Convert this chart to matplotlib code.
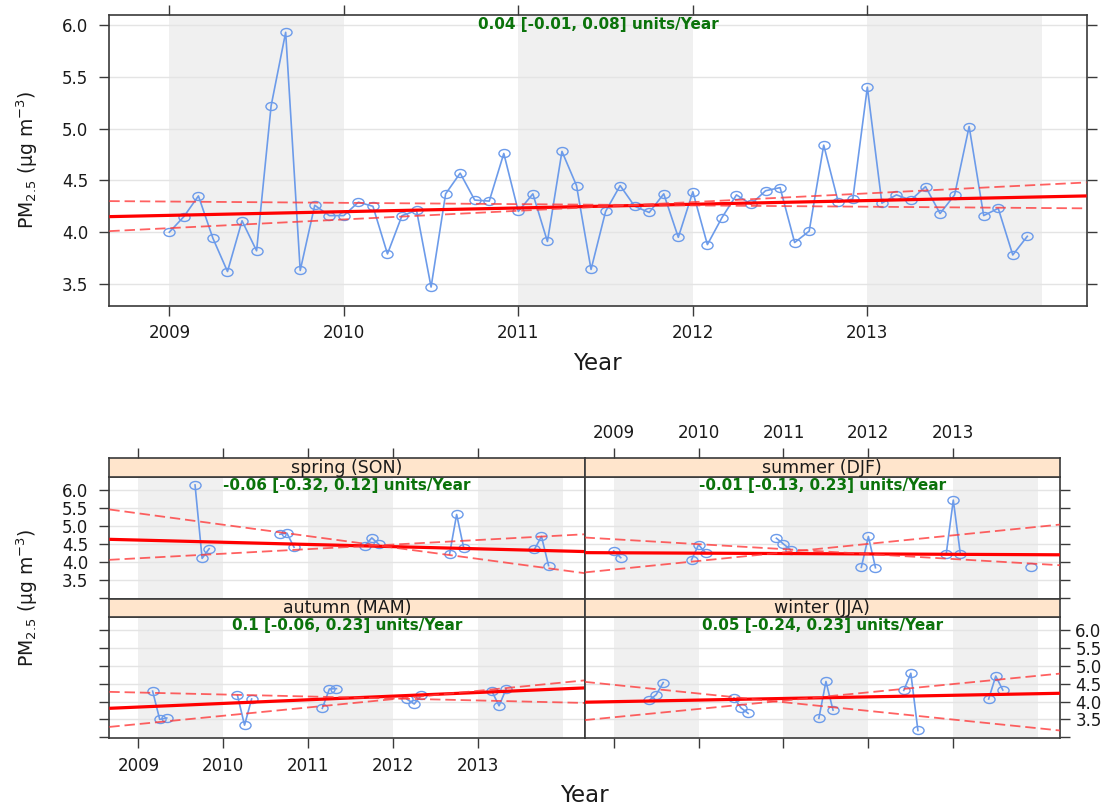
import matplotlib
matplotlib.use('Agg')
import matplotlib.pyplot as plt
import numpy as np
from matplotlib.path import Path

plt.rcParams['font.family'] = ['DejaVu Sans']
plt.rcParams['mathtext.fontset'] = 'dejavusans'
plt.rcParams['lines.scale_dashes'] = False

# ---------------- data ----------------
years = [2009, 2010, 2011, 2012, 2013]
monthly_pm25 = [
    4.00, 4.15, 4.35, 3.94, 3.62, 4.11, 3.82, 5.22, 5.93, 3.63, 4.26, 4.16,
    4.16, 4.29, 4.25, 3.79, 4.16, 4.21, 3.47, 4.37, 4.57, 4.31, 4.30, 4.76,
    4.20, 4.37, 3.91, 4.78, 4.45, 3.64, 4.20, 4.45, 4.25, 4.19, 4.37, 3.95,
    4.39, 3.88, 4.14, 4.36, 4.27, 4.40, 4.43, 3.90, 4.01, 4.84, 4.29, 4.32,
    5.40, 4.28, 4.36, 4.31, 4.44, 4.18, 4.36, 5.02, 4.16, 4.23, 3.78, 3.96,
]
# trend line values at the left / right ends of the time axis
top_trend = [4.15, 4.35]
top_ci_a = [4.30, 4.23]
top_ci_b = [4.01, 4.48]
top_label = "0.04 [-0.01, 0.08] units/Year"

season_names = ["spring (SON)", "summer (DJF)", "autumn (MAM)", "winter (JJA)"]
season_labels = ["-0.06 [-0.32, 0.12] units/Year",
                 "-0.01 [-0.13, 0.23] units/Year",
                 "0.1 [-0.06, 0.23] units/Year",
                 "0.05 [-0.24, 0.23] units/Year"]

spring_year = [2009]*3 + [2010]*3 + [2011]*3 + [2012]*3 + [2013]*3
spring_month = [9, 10, 11]*5
spring_vals = [6.14, 4.10, 4.37, 4.77, 4.80, 4.41, 4.45, 4.67, 4.49,
               4.22, 5.32, 4.39, 4.35, 4.71, 3.90]

summer_year = [2009, 2009, 2009, 2010, 2010, 2010, 2011, 2011, 2011,
               2012, 2012, 2012, 2013, 2013, 2013]
summer_month = [1, 2, 12]*5
summer_vals = [4.31, 4.12, 4.06, 4.48, 4.25, 4.66, 4.50, 4.34, 3.85,
               4.71, 3.84, 4.22, 5.72, 4.22, 3.86]

autumn_year = spring_year
autumn_month = [3, 4, 5]*5
autumn_vals = [4.29, 3.50, 3.54, 4.17, 3.34, 4.07, 3.81, 4.35, 4.36,
               4.06, 3.93, 4.17, 4.28, 3.88, 4.35]

winter_year = spring_year
winter_month = [6, 7, 8]*5
winter_vals = [4.03, 4.19, 4.53, 4.10, 3.82, 3.67, 3.53, 4.56, 3.76,
               4.31, 4.79, 3.19, 4.07, 4.71, 4.32]

season_trend = [[4.63, 4.29], [4.26, 4.20], [3.81, 4.38], [3.98, 4.23]]
season_ci_a = [[5.46, 3.69], [4.68, 3.91], [4.27, 3.96], [4.55, 3.19]]
season_ci_b = [[4.06, 4.77], [3.71, 5.04], [3.29, 4.59], [3.48, 4.78]]

shade_start_years = [2009, 2011, 2013]
ytick_vals = [3.5, 4.0, 4.5, 5.0, 5.5, 6.0]

# ---------------- styling / layout ----------------
W, H = 1116, 807
XLIM = (2008.656, 2014.257)
TOP_YLIM = (3.290, 6.097)
BOT_YLIM = (2.972, 6.353)
BLUE = '#6C9BEA'
GREEN = '#0B730B'
AX_COL = '#3a3a3a'
TXT_COL = '#1a1a1a'
FS = 12
TL = 7.5

fig = plt.figure(figsize=(W / 100, H / 100), dpi=100)


def rect(x0, y0, x1, y1):
    return [x0 / W, 1 - y1 / H, (x1 - x0) / W, (y1 - y0) / H]


circ = Path.unit_circle()
ell_marker = Path(circ.vertices * np.array([1.0, 0.72]), circ.codes)


def style_axes(ax):
    for s in ax.spines.values():
        s.set_color(AX_COL)
        s.set_linewidth(1.2)
    ax.tick_params(which='both', direction='out', length=TL, width=1.0,
                   color=AX_COL, labelcolor=TXT_COL, labelsize=FS)


def background(ax):
    for y0 in shade_start_years:
        ax.axvspan(y0, y0 + 1, color='#F0F0F0', lw=0, zorder=0)
    for yv in ytick_vals:
        ax.axhline(yv, color='#E4E4E4', lw=1.0, zorder=0.5)


def trends(ax, tr, ca, cb):
    ax.plot(XLIM, tr, color='red', lw=2.3, zorder=4, solid_capstyle='butt')
    for c in (ca, cb):
        ax.plot(XLIM, c, color='#FF3a3a', lw=1.3, alpha=0.8,
                dashes=(7.5, 3.5), zorder=4)


def green_text(ax, s, off_px):
    ax.annotate(s, xy=(0.5, 1.0), xycoords='axes fraction',
                xytext=(0, -off_px * 0.72), textcoords='offset points',
                ha='center', va='center', fontsize=11, fontweight='bold',
                color=GREEN, zorder=6)


# ---------------- top panel ----------------
ax0 = fig.add_axes(rect(109.3, 15, 1086.7, 305.7))
style_axes(ax0)
background(ax0)
t = np.array([y + (m - 1) / 12 for y in years for m in range(1, 13)])
ax0.plot(t, monthly_pm25, color=BLUE, lw=1.2, marker=ell_marker, ms=8.0,
         mfc='none', mec=BLUE, mew=1.0, zorder=3)
trends(ax0, top_trend, top_ci_a, top_ci_b)
green_text(ax0, top_label, 9)
ax0.set_xlim(XLIM)
ax0.set_ylim(TOP_YLIM)
ax0.set_xticks(years)
ax0.set_xticklabels([str(y) for y in years])
ax0.set_yticks(ytick_vals)
ax0.set_yticklabels(['%.1f' % v for v in ytick_vals])
ax0.tick_params(axis='x', top=True, bottom=True, labeltop=False, pad=5.5)
ax0.tick_params(axis='y', left=True, right=True, labelright=False, pad=7.5)
fig.text(597 / W, 1 - 363 / H, 'Year', ha='center', va='center',
         fontsize=16.5, color=TXT_COL)
fig.text(27 / W, 1 - 160 / H, 'PM$_{2.5}$ (μg m$^{-3}$)', ha='center',
         va='center', rotation=90, fontsize=13.5, color=TXT_COL)

# ---------------- seasonal panels ----------------
cols = [(109.3, 584.5), (584.5, 1060.0)]
rows = [((458.3, 477.3), (477.3, 599.0)), ((599.0, 617.3), (617.3, 738.3))]
season_data = [(spring_year, spring_month, spring_vals),
               (summer_year, summer_month, summer_vals),
               (autumn_year, autumn_month, autumn_vals),
               (winter_year, winter_month, winter_vals)]

ytl = [3.0] + ytick_vals
ytl_lab = [''] + ['%.1f' % v for v in ytick_vals]

for k in range(4):
    r, c = divmod(k, 2)
    (sy0, sy1), (py0, py1) = rows[r]
    x0, x1 = cols[c]
    ax = fig.add_axes(rect(x0, py0, x1, py1))
    style_axes(ax)
    background(ax)
    yrs, mons, vals = season_data[k]
    xs = np.array([y + (m - 1) / 12 for y, m in zip(yrs, mons)])
    grp = np.array([y + 1 if m == 12 else y for y, m in zip(yrs, mons)])
    vals = np.array(vals)
    for g in np.unique(grp):
        sel = grp == g
        ax.plot(xs[sel], vals[sel], color=BLUE, lw=1.2, marker=ell_marker,
                ms=8.0, mfc='none', mec=BLUE, mew=1.0, zorder=3)
    trends(ax, season_trend[k], season_ci_a[k], season_ci_b[k])
    green_text(ax, season_labels[k], 8)
    ax.set_xlim(XLIM)
    ax.set_ylim(BOT_YLIM)
    ax.set_xticks(years)
    ax.set_xticklabels([str(y) for y in years])
    ax.set_yticks(ytl)
    ax.set_yticklabels(ytl_lab)
    # tick placement lattice style
    if r == 0:
        ax.tick_params(axis='x', bottom=False, top=False,
                       labelbottom=False, labeltop=False)
    else:
        ax.tick_params(axis='x', bottom=True, top=False,
                       labelbottom=(c == 0), labeltop=False, pad=6.0)
    if c == 0:
        ax.tick_params(axis='y', left=True, right=False,
                       labelleft=(r == 0), labelright=False, pad=7.5)
    else:
        ax.tick_params(axis='y', left=False, right=True,
                       labelleft=False, labelright=(r == 1), pad=3.5)

    # strip
    sax = fig.add_axes(rect(x0, sy0, x1, sy1))
    sax.set_facecolor('#FFE5CC')
    style_axes(sax)
    sax.set_xlim(XLIM)
    sax.set_yticks([])
    sax.set_xticks(years)
    sax.set_xticklabels([str(y) for y in years])
    if r == 0:
        sax.tick_params(axis='x', top=True, bottom=False, labeltop=(c == 1),
                        labelbottom=False, pad=4.0)
    else:
        sax.tick_params(axis='x', top=False, bottom=False, labeltop=False,
                        labelbottom=False)
    sax.text(0.5, 0.5, season_names[k], transform=sax.transAxes,
             ha='center', va='center', fontsize=12.5, color=TXT_COL)

fig.text(584.7 / W, 1 - 795 / H, 'Year', ha='center', va='center',
         fontsize=16.5, color=TXT_COL)
fig.text(27 / W, 1 - 598 / H, 'PM$_{2.5}$ (μg m$^{-3}$)', ha='center',
         va='center', rotation=90, fontsize=13.5, color=TXT_COL)

fig.savefig('out.png', dpi=100, facecolor='white')
